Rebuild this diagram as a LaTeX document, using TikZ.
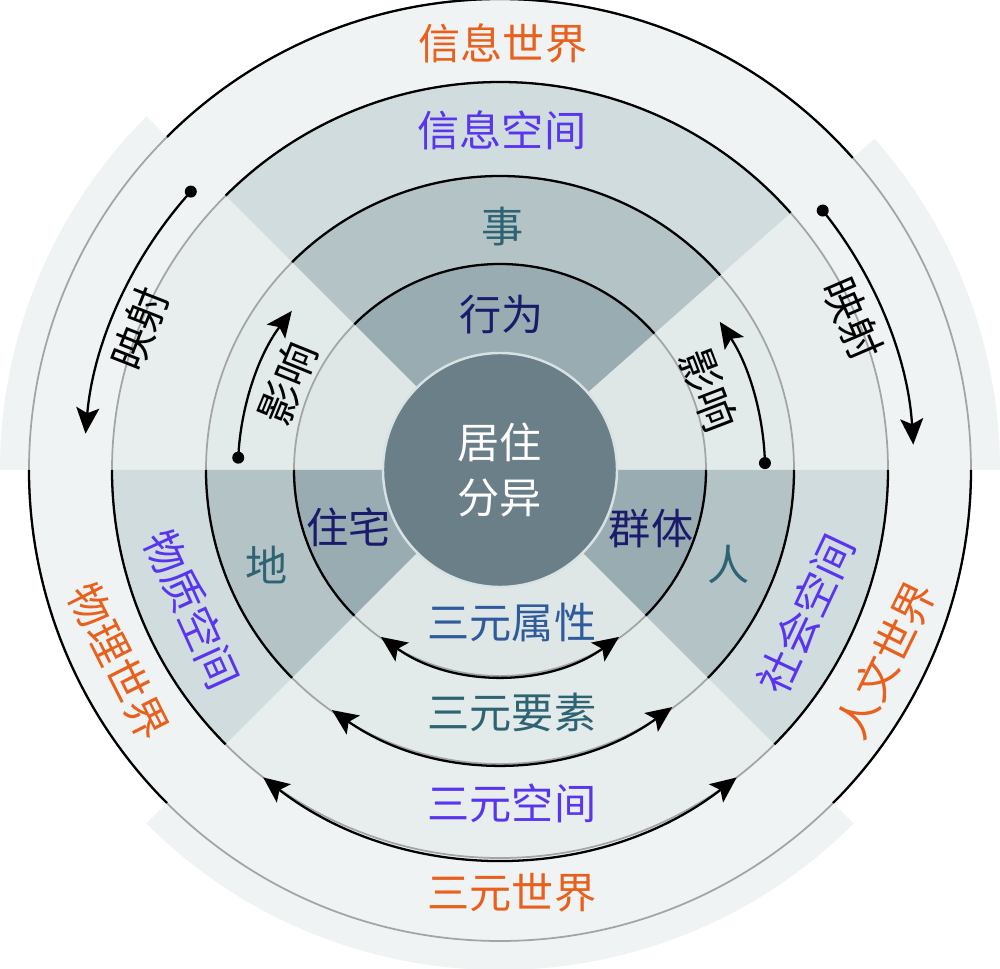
\documentclass[tikz,border=0pt]{standalone}
\usepackage{fontspec}
\newfontfamily\cjk{Noto Sans CJK SC}
\usetikzlibrary{arrows.meta}
\definecolor{cfour}{HTML}{EFF3F3}
\definecolor{lthree}{HTML}{E8EEEE}
\definecolor{ltwo}{HTML}{E3EAEA}
\definecolor{lone}{HTML}{DEE6E6}
\definecolor{dthree}{HTML}{D1DCDE}
\definecolor{dtwo}{HTML}{B4C3C6}
\definecolor{done}{HTML}{98ACB1}
\definecolor{diskc}{HTML}{6A7F88}
\definecolor{diskb}{HTML}{D8E1E3}
\definecolor{ringgrey}{HTML}{A3A5A5}
\definecolor{orangec}{HTML}{E8601C}
\definecolor{purplec}{HTML}{5A35F0}
\definecolor{tealc}{HTML}{2D6372}
\definecolor{navyc}{HTML}{1B1B6B}
\definecolor{bluec}{HTML}{2F5A9C}
\begin{document}
\begin{tikzpicture}[scale=0.02,
  lab/.style={font=\cjk\fontsize{24}{28}\selectfont, inner sep=0pt},
  blackline/.style={line width=1.3pt, draw=black},
  greyline/.style={line width=1pt, draw=ringgrey},
  tipx/.tip={Stealth[length=5.2mm,width=4.6mm,inset=1.1mm]},
  arr/.style={line width=1.3pt, -tipx},
  darr/.style={line width=1.3pt, tipx-tipx},
  dotc/.style={fill=black}
]
\useasboundingbox (-500,-499) rectangle (500,470);
% base rings
\fill[cfour] (0,0) circle (471);
\foreach \a/\b in {135/180,225/315,0/41.5}
  \fill[cfour] (\a:500) arc[start angle=\a,end angle=\b,radius=500] -- (\b:471) arc[start angle=\b,end angle=\a,radius=471] -- cycle;
\fill[lthree] (0,0) circle (388);
\foreach \a/\b in {41.5/135,180/225,315/360}
  \fill[dthree] (0,0) -- (\a:388) arc[start angle=\a,end angle=\b,radius=388] -- cycle;
\fill[ltwo] (0,0) circle (294);
\foreach \a/\b in {41.5/135,180/225,315/360}
  \fill[dtwo] (0,0) -- (\a:294) arc[start angle=\a,end angle=\b,radius=294] -- cycle;
\fill[lone] (0,0) circle (206);
\foreach \a/\b in {41.5/135,180/225,315/360}
  \fill[done] (0,0) -- (\a:206) arc[start angle=\a,end angle=\b,radius=206] -- cycle;
% ring lines
\foreach \r in {206,294,388,471}
  \draw[greyline] (0,0) circle (\r);
\foreach \r in {206,294,388,471}
  \foreach \a/\b in {41.5/135,180/225,315/360}
    \draw[blackline] (\a:\r) arc[start angle=\a,end angle=\b,radius=\r];
% core
\node[circle, minimum size=234*0.02cm, inner sep=0pt, fill=diskc, draw=diskb, line width=1.4pt,
  text=white, align=center, font=\cjk\fontsize{24}{31}\selectfont] (core) at (0,0) {居住\\分异};
% arrows
\coordinate (mls) at (138:416);
\draw[arr] (mls) arc[start angle=138,end angle=175,radius=416];
\fill[dotc] (mls) circle (6);
\coordinate (mrs) at (38.8:414);
\draw[arr] (mrs) arc[start angle=38.8,end angle=3.5,radius=414];
\fill[dotc] (mrs) circle (6);
\coordinate (yls) at (177.3:262);
\draw[arr] (yls) arc[start angle=177.3,end angle=142.6,radius=262];
\fill[dotc] (yls) circle (6);
\coordinate (yrs) at (1.5:265);
\draw[arr] (yrs) arc[start angle=1.5,end angle=34,radius=265];
\fill[dotc] (yrs) circle (6);
\coordinate (sxs) at (234.5:205);
\draw[darr] (sxs) arc[start angle=234.5,end angle=305.5,radius=205];
\coordinate (sys) at (235:293);
\draw[darr] (sys) arc[start angle=235,end angle=306,radius=293];
\coordinate (sks) at (232.4:388);
\draw[darr] (sks) arc[start angle=232.4,end angle=307.6,radius=388];
% labels
\node[lab, text=orangec] (xxsj) at (3,427) {信息世界};
\node[lab, text=purplec] (xxkj) at (2,340) {信息空间};
\node[lab, text=tealc] (shi) at (3,243) {事};
\node[lab, text=navyc] (xw) at (2,155) {行为};
\node[lab, text=navyc] (zz) at (-151,-57) {住宅};
\node[lab, text=navyc] (qt) at (151,-58) {群体};
\node[lab, text=tealc] (di) at (-233,-95) {地};
\node[lab, text=tealc] (ren) at (229,-94) {人};
\node[lab, text=bluec] (sysx) at (12,-152) {三元属性};
\node[lab, text=tealc] (syys) at (12,-242) {三元要素};
\node[lab, text=purplec] (sykj) at (12,-333) {三元空间};
\node[lab, text=orangec] (sysj) at (12,-423) {三元世界};
\node[lab, text=purplec, rotate=-65.6] (wzkj) at (204.4:338) {物质空间};
\node[lab, text=orangec, rotate=-63.3] (wlsj) at (206.7:427) {物理世界};
\node[lab, text=purplec, rotate=64.8] (shkj) at (-25.2:338) {社会空间};
\node[lab, text=orangec, rotate=63.8] (rwsj) at (-26.2:430) {人文世界};
\node[lab, text=black, rotate=68.6] (ysl) at (158.6:387) {映射};
\node[lab, text=black, rotate=-66.8] (ysr) at (23.2:384) {映射};
\node[lab, text=black, rotate=67.9] (yxl) at (157.9:229) {影响};
\node[lab, text=black, rotate=-69] (yxr) at (21:223) {影响};
\end{tikzpicture}
\end{document}
